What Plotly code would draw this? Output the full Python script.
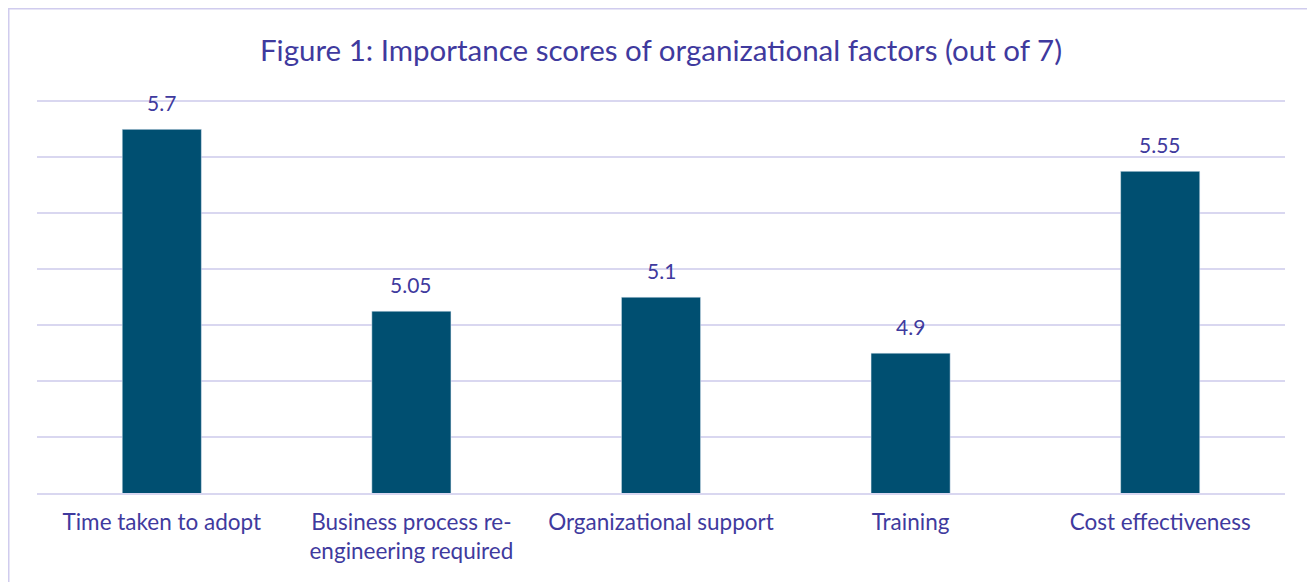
import plotly.graph_objects as go

categories = ["Time taken to adopt", "Business process re-<br>engineering required",
              "Organizational support", "Training", "Cost effectiveness"]
scores = [5.7, 5.05, 5.1, 4.9, 5.55]
score_labels = ["5.7", "5.05", "5.1", "4.9", "5.55"]
grid_values = [4.4, 4.6, 4.8, 5.0, 5.2, 5.4, 5.6, 5.8]

TEXT = "#3F3A9E"
BAR = "#004F71"
GRID = "#D9D7F0"
FONT = "Lato, Open Sans, sans-serif"

OFF = 8  # page offset in screenshot
W, H = 1315, 582
Y_MIN, Y_MAX = 4.4, 5.805
L, T = 37 - OFF, 100 - OFF
pw, ph = 1248, 393
R, B = W - L - pw, H - T - ph

fig = go.Figure(go.Bar(x=categories, y=scores, marker_color=BAR, width=0.317,
                       hoverinfo="skip"))

for c, v, s in zip(categories, scores, score_labels):
    fig.add_annotation(x=c, y=v, text=s, showarrow=False, yanchor="bottom",
                       yshift=12, font=dict(family=FONT, size=21, color=TEXT))

def px2x(p):
    return (p - OFF - L) / pw

def px2y(p):
    return 1 - (p - OFF - T) / ph

fig.add_shape(type="rect", xref="paper", yref="paper",
              x0=px2x(8.75), x1=px2x(1313.5), y0=px2y(600), y1=px2y(8.75),
              line=dict(color="#D0CCEE", width=1.5), fillcolor="rgba(0,0,0,0)", layer="below")

fig.update_layout(
    width=W, height=H,
    margin=dict(l=L, r=R, t=T, b=B),
    paper_bgcolor="white", plot_bgcolor="white",
    title=dict(text="Figure 1: Importance scores of organizational factors (out of 7)",
               x=0.5, xref="paper", xanchor="center", y=1 - (51 - OFF) / H, yanchor="middle",
               font=dict(family=FONT, size=29.5, color=TEXT)),
    showlegend=False,
    font=dict(family=FONT, size=22, color=TEXT),
)
fig.update_xaxes(showgrid=False, showline=True, linecolor=GRID, linewidth=2,
                 ticks="", ticklabelstandoff=8, tickfont=dict(size=22.5, color=TEXT))
fig.update_yaxes(range=[Y_MIN, Y_MAX], tickmode="array", tickvals=grid_values,
                 showgrid=True, gridcolor=GRID,
                 gridwidth=1.5, showticklabels=False, zeroline=False, showline=False)

fig.write_html("out.html")
